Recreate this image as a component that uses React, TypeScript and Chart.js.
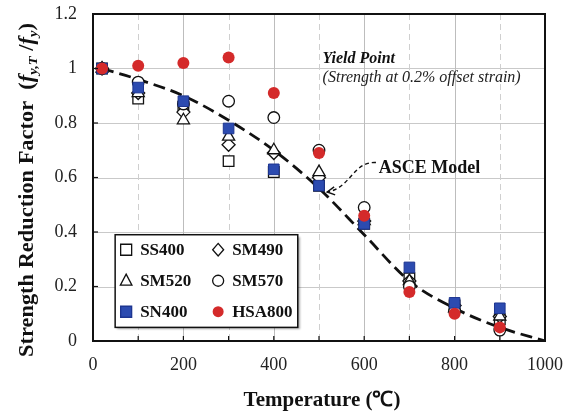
import React, { useEffect, useRef } from "react";
import { Chart, registerables } from "chart.js";

Chart.register(...registerables);

// ---------- data ----------
const temps = [20, 100, 200, 300, 400, 500, 600, 700, 800, 900];
const ss400 = [1.0, 0.89, 0.86, 0.66, 0.62, 0.57, 0.43, 0.23, 0.13, 0.08];
const sm490 = [1.0, 0.91, 0.84, 0.72, 0.69, 0.6, 0.44, 0.22, 0.13, 0.09];
const sm520 = [1.0, 0.91, 0.81, 0.75, 0.7, 0.62, 0.44, 0.22, 0.12, 0.09];
const sm570 = [1.0, 0.95, 0.87, 0.88, 0.82, 0.7, 0.49, 0.2, 0.11, 0.04];
const sn400 = [1.0, 0.93, 0.88, 0.78, 0.63, 0.57, 0.43, 0.27, 0.14, 0.12];
const hsa800 = [1.0, 1.01, 1.02, 1.04, 0.91, 0.69, 0.46, 0.18, 0.1, 0.05];

const asceTemps = [20, 100, 200, 300, 400, 500, 600, 700, 800, 900, 1000];
const asceValues = [1.0, 0.96, 0.9, 0.81, 0.7, 0.56, 0.39, 0.22, 0.12, 0.05, 0.0];

const xGridValues = [100, 200, 300, 400, 500, 600, 700, 800, 900];
const yGridValues = [0.2, 0.4, 0.6, 0.8, 1.0];

const BLUE = "#2c4bb0";
const BLUE_EDGE = "#1d3590";
const RED = "#d42a2a";
const SERIF = '"Liberation Serif", "Times New Roman", serif';

type Marker = "square" | "diamond" | "triangle" | "circle";

function drawMarker(ctx: CanvasRenderingContext2D, kind: Marker, x: number, y: number, s: number, fill: string, stroke: string, lw: number) {
  ctx.save();
  ctx.beginPath();
  if (kind === "square") ctx.rect(x - s, y - s, 2 * s, 2 * s);
  else if (kind === "diamond") {
    ctx.moveTo(x, y - s * 1.15);
    ctx.lineTo(x + s * 1.0, y);
    ctx.lineTo(x, y + s * 1.15);
    ctx.lineTo(x - s * 1.0, y);
    ctx.closePath();
  } else if (kind === "triangle") {
    ctx.moveTo(x, y - s * 1.2);
    ctx.lineTo(x + s * 1.05, y + s * 0.8);
    ctx.lineTo(x - s * 1.05, y + s * 0.8);
    ctx.closePath();
  } else ctx.arc(x, y, s, 0, Math.PI * 2);
  ctx.fillStyle = fill;
  ctx.fill();
  if (lw > 0) {
    ctx.lineWidth = lw;
    ctx.strokeStyle = stroke;
    ctx.stroke();
  }
  ctx.restore();
}

const legendItems: { label: string; kind: Marker; fill: string; stroke: string }[] = [
  { label: "SS400", kind: "square", fill: "#fff", stroke: "#111" },
  { label: "SM490", kind: "diamond", fill: "#fff", stroke: "#111" },
  { label: "SM520", kind: "triangle", fill: "#fff", stroke: "#111" },
  { label: "SM570", kind: "circle", fill: "#fff", stroke: "#111" },
  { label: "SN400", kind: "square", fill: BLUE, stroke: BLUE_EDGE },
  { label: "HSA800", kind: "circle", fill: RED, stroke: RED },
];

const decor = {
  id: "decor",
  beforeDraw(chart: any) {
    const ctx = chart.ctx;
    ctx.save();
    ctx.fillStyle = "#fff";
    ctx.fillRect(0, 0, chart.width, chart.height);
    ctx.restore();
  },
  beforeDatasetsDraw(chart: any) {
    const { ctx, chartArea: a, scales } = chart;
    const xs = scales.x, ys = scales.y;
    ctx.save();
    ctx.lineWidth = 1;
    ctx.strokeStyle = "#c9c9c9";
    for (const v of yGridValues) {
      const py = Math.round(ys.getPixelForValue(v)) + 0.5;
      ctx.beginPath();
      ctx.moveTo(a.left, py);
      ctx.lineTo(a.right, py);
      ctx.stroke();
    }
    for (const t of xGridValues) {
      const px = Math.round(xs.getPixelForValue(t)) + 0.5;
      ctx.beginPath();
      if (t % 200 === 0) {
        ctx.setLineDash([]);
        ctx.strokeStyle = "#bdbdbd";
      } else {
        ctx.setLineDash([6, 4]);
        ctx.strokeStyle = "#cfcfcf";
      }
      ctx.moveTo(px, a.top);
      ctx.lineTo(px, a.bottom);
      ctx.stroke();
    }
    ctx.restore();
  },
  afterDatasetsDraw(chart: any) {
    const { ctx, chartArea: a, scales } = chart;
    const xs = scales.x, ys = scales.y;
    const X = (v: number) => xs.getPixelForValue(v);
    const Y = (v: number) => ys.getPixelForValue(v);
    ctx.save();
    // border
    ctx.strokeStyle = "#111";
    ctx.lineWidth = 2;
    ctx.strokeRect(a.left, a.top, a.right - a.left, a.bottom - a.top);
    // inner tick marks
    ctx.lineWidth = 1.2;
    for (const t of xGridValues) {
      const px = X(t);
      ctx.beginPath();
      ctx.moveTo(px, a.bottom);
      ctx.lineTo(px, a.bottom - 5);
      ctx.stroke();
    }
    for (const v of yGridValues) {
      const py = Y(v);
      ctx.beginPath();
      ctx.moveTo(a.left, py);
      ctx.lineTo(a.left + 5, py);
      ctx.stroke();
    }

    // annotations
    ctx.fillStyle = "#111";
    ctx.textAlign = "left";
    ctx.textBaseline = "alphabetic";
    ctx.font = `italic bold 16px ${SERIF}`;
    ctx.fillText("Yield Point", X(508), Y(1.02));
    ctx.font = `italic 16px ${SERIF}`;
    ctx.fillStyle = "#222";
    ctx.fillText("(Strength at 0.2% offset strain)", X(508), Y(0.952));
    ctx.fillStyle = "#111";
    ctx.font = `bold 18px ${SERIF}`;
    ctx.fillText("ASCE Model", X(632), Y(0.617));

    // arrow
    const sx = X(626), sy = Y(0.655);
    const ex = X(518), ey = Y(0.547);
    ctx.setLineDash([4, 3]);
    ctx.lineWidth = 1.4;
    ctx.beginPath();
    ctx.moveTo(sx, sy);
    ctx.bezierCurveTo(X(575), Y(0.66), X(570), Y(0.56), ex, ey);
    ctx.stroke();
    ctx.setLineDash([]);
    ctx.beginPath();
    ctx.moveTo(ex + 7, ey - 5);
    ctx.lineTo(ex, ey);
    ctx.lineTo(ex + 8, ey + 3);
    ctx.stroke();

    // legend box
    const lx = X(49), ly = Y(0.39), lw = X(453) - X(49), lh = Y(0.05) - Y(0.39);
    ctx.save();
    ctx.shadowColor = "rgba(0,0,0,0.35)";
    ctx.shadowOffsetX = 2;
    ctx.shadowOffsetY = 2;
    ctx.shadowBlur = 2;
    ctx.fillStyle = "#fff";
    ctx.fillRect(lx, ly, lw, lh);
    ctx.restore();
    ctx.lineWidth = 1.5;
    ctx.strokeStyle = "#111";
    ctx.strokeRect(lx, ly, lw, lh);
    ctx.font = `bold 17px ${SERIF}`;
    ctx.textBaseline = "middle";
    legendItems.forEach((it, i) => {
      const col = i % 2, row = Math.floor(i / 2);
      const mx = lx + 11 + col * 92;
      const my = ly + 15 + row * 31;
      drawMarker(ctx, it.kind, mx, my, 5.5, it.fill, it.stroke, it.fill === RED ? 0 : 1.3);
      ctx.fillStyle = "#111";
      ctx.fillText(it.label, mx + 14, my + 1);
    });

    // x axis title
    ctx.textAlign = "center";
    ctx.textBaseline = "alphabetic";
    ctx.font = `bold 21px ${SERIF}`;
    ctx.fillText("Temperature (\u2103)", 322, 406);

    // y axis title (rotated, with subscripts)
    const segs: { t: string; f: string; dy: number }[] = [
      { t: "Strength Reduction Factor  (", f: `bold 20px ${SERIF}`, dy: 0 },
      { t: "f", f: `italic bold 20px ${SERIF}`, dy: 0 },
      { t: "y,T", f: `italic bold 13px ${SERIF}`, dy: 4 },
      { t: " /", f: `bold 20px ${SERIF}`, dy: 0 },
      { t: "f", f: `italic bold 20px ${SERIF}`, dy: 0 },
      { t: "y", f: `italic bold 13px ${SERIF}`, dy: 4 },
      { t: ")", f: `bold 20px ${SERIF}`, dy: 0 },
    ];
    let total = 0;
    const widths = segs.map((s) => {
      ctx.font = s.f;
      const w = ctx.measureText(s.t).width;
      total += w;
      return w;
    });
    const targetLen = 334;
    ctx.translate(33, 190);
    ctx.rotate(-Math.PI / 2);
    ctx.scale(targetLen / total, 1);
    ctx.textAlign = "left";
    let cx = -total / 2;
    segs.forEach((s, i) => {
      ctx.font = s.f;
      ctx.fillText(s.t, cx, s.dy);
      cx += widths[i];
    });
    ctx.restore();
  },
};

export default function App() {
  const ref = useRef<HTMLCanvasElement>(null);
  useEffect(() => {
    const canvas = ref.current;
    if (!canvas) return;
    const pts = (vals: number[]) => temps.map((t, i) => ({ x: t, y: vals[i] }));
    const mk = (label: string, vals: number[], style: string, radius: number, bg: string, border: string, bw: number, order: number) => ({
      label,
      data: pts(vals),
      pointStyle: style,
      pointRadius: radius,
      pointHoverRadius: radius,
      pointBackgroundColor: bg,
      pointBorderColor: border,
      pointBorderWidth: bw,
      showLine: false,
      order,
    });
    const chart = new Chart(canvas, {
      type: "scatter",
      data: {
        datasets: [
          {
            label: "ASCE Model",
            data: asceTemps.map((t, i) => ({ x: t, y: asceValues[i] })),
            showLine: true,
            borderColor: "#111",
            borderWidth: 2.8,
            borderDash: [12, 6],
            pointRadius: 0,
            pointHoverRadius: 0,
            cubicInterpolationMode: "monotone",
            order: 10,
          } as any,
          mk("SS400", ss400, "rect", 7.5, "#fff", "#111", 1.3, 6),
          mk("SM490", sm490, "rectRot", 6.5, "#fff", "#111", 1.3, 5),
          mk("SM520", sm520, "triangle", 7, "#fff", "#111", 1.3, 4),
          mk("SM570", sm570, "circle", 5.8, "#fff", "#111", 1.3, 3),
          mk("SN400", sn400, "rect", 7.5, BLUE, BLUE_EDGE, 1, 2),
          mk("HSA800", hsa800, "circle", 6, RED, RED, 0, 1),
        ],
      },
      options: {
        animation: false,
        responsive: false,
        layout: { padding: { top: 14, right: 25, left: 0, bottom: 0 } },
        plugins: { legend: { display: false }, tooltip: { enabled: false } },
        scales: {
          x: {
            type: "linear",
            min: 0,
            max: 1000,
            grid: { display: false, drawTicks: false },
            border: { display: false },
            ticks: {
              stepSize: 200,
              padding: 13,
              color: "#222",
              font: { family: SERIF, size: 18 },
              callback: (v: any) => String(Math.round(Number(v))),
            },
            afterFit: (s: any) => {
              s.height = 71;
              s.paddingLeft = 0;
              s.paddingRight = 0;
            },
          },
          y: {
            type: "linear",
            min: 0,
            max: 1.2,
            grid: { display: false, drawTicks: false },
            border: { display: false },
            ticks: {
              stepSize: 0.2,
              padding: 16,
              color: "#222",
              font: { family: SERIF, size: 18 },
              callback: (v: any) => String(+Number(v).toFixed(1)),
            },
            afterFit: (s: any) => {
              s.width = 93;
              s.paddingTop = 0;
              s.paddingBottom = 0;
            },
          },
        },
      } as any,
      plugins: [decor],
    });
    return () => chart.destroy();
  }, []);
  return (
    <div style={{ position: "absolute", left: 0, top: 0, width: 570, height: 412 }}>
      <canvas ref={ref} width={570} height={412} style={{ display: "block" }} />
    </div>
  );
}
